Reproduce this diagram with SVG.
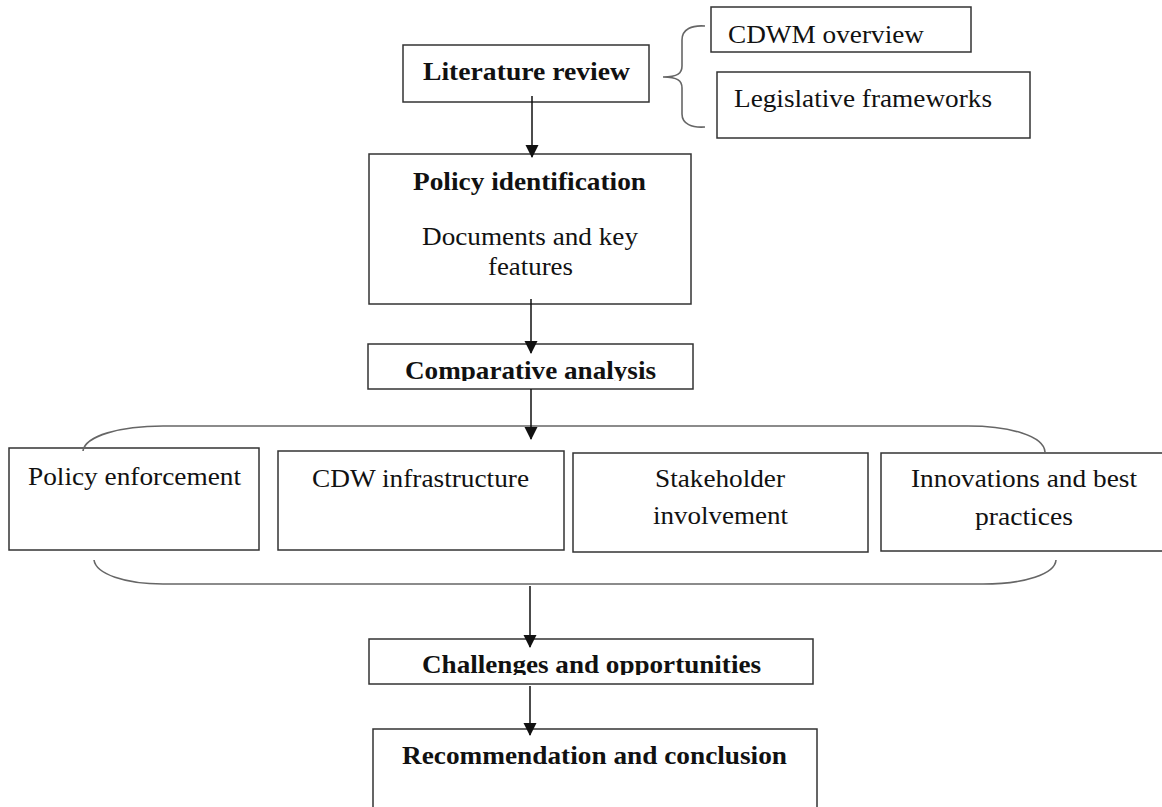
<svg xmlns="http://www.w3.org/2000/svg" width="1162" height="807" viewBox="0 0 1162 807">
<style>
.box{fill:#fff;stroke:#333;stroke-width:1.5}
.t{font-family:"Liberation Serif","Times New Roman",serif;fill:#111;font-size:25px}
.b{font-weight:bold}
.br{fill:none;stroke:#666;stroke-width:1.6}
.ar{stroke:#111;stroke-width:1.5;fill:none;marker-end:url(#ah)}
</style>
<defs>
<marker id="ah" markerWidth="13" markerHeight="14" refX="12" refY="6.5" orient="auto" markerUnits="userSpaceOnUse">
<path d="M0,0 L13,6.5 L0,13 Z" fill="#111"/>
</marker>
<clipPath id="c1"><rect x="368" y="344" width="326" height="37"/></clipPath>
<clipPath id="c2"><rect x="369" y="639" width="445" height="36"/></clipPath>
</defs>
<rect width="1162" height="807" fill="#fff"/>
<g id="literature-review">
<rect class="box" x="403" y="45" width="246" height="57"/>
<text class="t b" x="423" y="80" textLength="207" lengthAdjust="spacingAndGlyphs">Literature review</text>
</g>
<g id="cdwm-overview">
<rect class="box" x="711" y="7" width="260" height="45"/>
<text class="t" x="728" y="43" textLength="196" lengthAdjust="spacingAndGlyphs">CDWM overview</text>
</g>
<g id="legislative-frameworks">
<rect class="box" x="717" y="72" width="313" height="66"/>
<text class="t" x="734" y="107" textLength="258" lengthAdjust="spacingAndGlyphs">Legislative frameworks</text>
</g>
<g id="policy-identification">
<rect class="box" x="369" y="154" width="322" height="150"/>
<text class="t b" x="413" y="190" font-size="24" textLength="233" lengthAdjust="spacingAndGlyphs">Policy identification</text>
<text class="t" x="422" y="245" textLength="216" lengthAdjust="spacingAndGlyphs">Documents and key</text>
<text class="t" x="488" y="275" textLength="85" lengthAdjust="spacingAndGlyphs">features</text>
</g>
<g id="comparative-analysis">
<rect class="box" x="368" y="344" width="325" height="45"/>
<text class="t b" x="405" y="379" font-size="26" textLength="251" lengthAdjust="spacingAndGlyphs" clip-path="url(#c1)">Comparative analysis</text>
</g>
<g id="policy-enforcement">
<rect class="box" x="9" y="448" width="250" height="102"/>
<text class="t" x="28" y="485" textLength="213" lengthAdjust="spacingAndGlyphs">Policy enforcement</text>
</g>
<g id="cdw-infrastructure">
<rect class="box" x="278" y="451" width="286" height="99"/>
<text class="t" x="312" y="487" textLength="217" lengthAdjust="spacingAndGlyphs">CDW infrastructure</text>
</g>
<g id="stakeholder-involvement">
<rect class="box" x="573" y="453" width="295" height="99"/>
<text class="t" x="655" y="487" textLength="130" lengthAdjust="spacingAndGlyphs">Stakeholder</text>
<text class="t" x="653" y="524" textLength="135" lengthAdjust="spacingAndGlyphs">involvement</text>
</g>
<g id="innovations">
<rect class="box" x="881" y="453" width="300" height="98"/>
<text class="t" x="911" y="487" textLength="226" lengthAdjust="spacingAndGlyphs">Innovations and best</text>
<text class="t" x="975" y="525" textLength="98" lengthAdjust="spacingAndGlyphs">practices</text>
</g>
<g id="challenges">
<rect class="box" x="369" y="639" width="444" height="45"/>
<text class="t b" x="422" y="673" font-size="26" textLength="339" lengthAdjust="spacingAndGlyphs" clip-path="url(#c2)">Challenges and opportunities</text>
</g>
<g id="recommendation">
<rect class="box" x="373" y="729" width="444" height="90"/>
<text class="t b" x="402" y="764" font-size="26" textLength="385" lengthAdjust="spacingAndGlyphs">Recommendation and conclusion</text>
</g>
<g id="braces">
<path class="br" d="M705,26 C692,25 682,29 682,40 L682,66 C682,73 678,77 663,77 M663,77 C678,77 682,81 682,88 L682,114 C682,124 692,128 705,127"/>
<path class="br" d="M83,451 C85,436 120,426 163,426 L968,426 C1010,426 1044,436 1045,452"/>
<path class="br" d="M94,560 C96,574 125,584 163,584 L983,584 C1025,584 1055,574 1056,560"/>
</g>
<g id="connectors">
<line class="ar" x1="532" y1="96" x2="532" y2="157"/>
<line class="ar" x1="531" y1="299" x2="531" y2="353"/>
<line class="ar" x1="531" y1="389" x2="531" y2="439"/>
<line class="ar" x1="530" y1="586" x2="530" y2="647"/>
<line class="ar" x1="530" y1="686" x2="530" y2="735"/>
</g>
</svg>
